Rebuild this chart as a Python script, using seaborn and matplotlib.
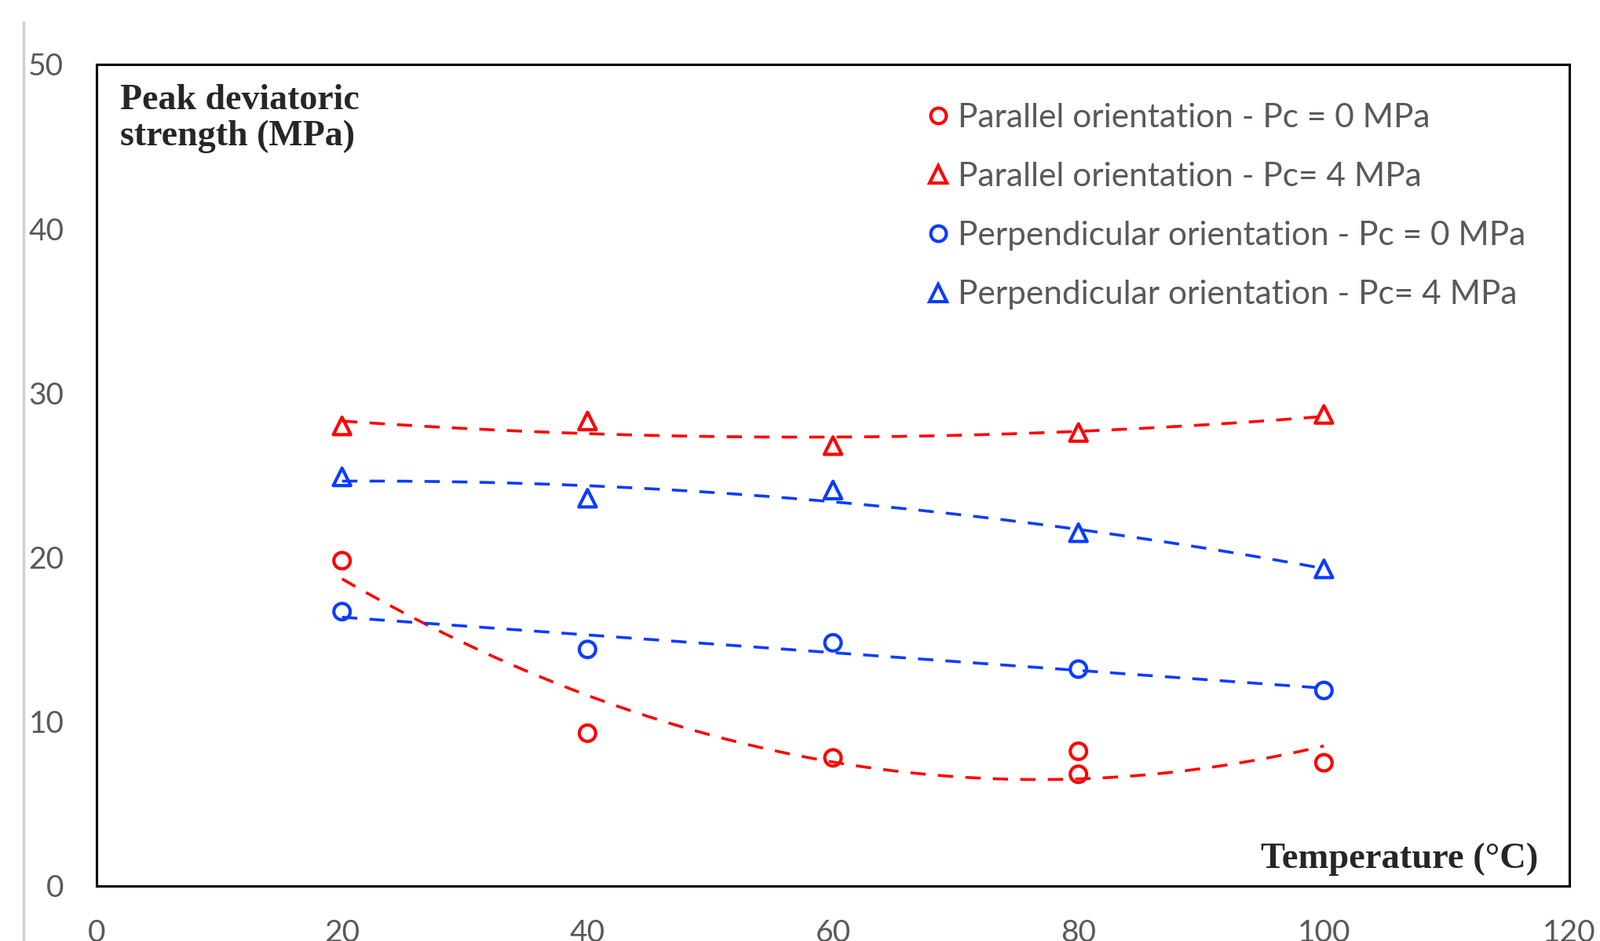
import numpy as np
import pandas as pd
import matplotlib
matplotlib.use('Agg')
import matplotlib.pyplot as plt
import seaborn as sns
from matplotlib.lines import Line2D

# values
temperature = [20, 40, 60, 80, 100]
par_pc0_temp = [20, 40, 60, 80, 80, 100]
par_pc0 = [19.8, 9.3, 7.8, 8.2, 6.8, 7.5]
par_pc4 = [28.0, 28.3, 26.8, 27.6, 28.7]
perp_pc0 = [16.7, 14.4, 14.8, 13.2, 11.9]
perp_pc4 = [24.9, 23.6, 24.1, 21.5, 19.3]

labels = ['Parallel orientation - Pc = 0 MPa',
          'Parallel orientation - Pc= 4 MPa',
          'Perpendicular orientation - Pc = 0 MPa',
          'Perpendicular orientation - Pc= 4 MPa']
x_ticks = [0, 20, 40, 60, 80, 100, 120]
y_ticks = [0, 10, 20, 30, 40, 50]

RED = '#FF0000'
BLUE = '#0A3CFF'
GRAY = '#595959'

frames = []
for lab, xs, ys in zip(labels,
                       [par_pc0_temp, temperature, temperature, temperature],
                       [par_pc0, par_pc4, perp_pc0, perp_pc4]):
    frames.append(pd.DataFrame({'series': lab, 'temp': xs, 'strength': ys}))
df = pd.concat(frames, ignore_index=True)

styles = {labels[0]: (RED, 'o', 15),
          labels[1]: (RED, '^', 16),
          labels[2]: (BLUE, 'o', 15),
          labels[3]: (BLUE, '^', 16)}

sns.set_style('white')
plt.rcParams['font.family'] = ['Lato', 'DejaVu Sans']

fig = plt.figure(figsize=(20.38, 11.98), dpi=100)
ax = fig.add_axes([123 / 2038, 1 - 1128 / 1198, 1876 / 2038, 1046 / 1198])

for lab in labels:
    sub = df[df['series'] == lab]
    color, marker, ms = styles[lab]
    # polynomial (order 2) trend line, dashed
    sns.regplot(data=sub, x='temp', y='strength', order=2, ci=None,
                scatter=False, ax=ax,
                line_kws=dict(color=color, lw=2.6, dashes=(5.4, 4.3)))
    sns.scatterplot(data=sub, x='temp', y='strength', ax=ax, marker=marker,
                    s=ms ** 2, facecolor='none', edgecolor=color,
                    linewidth=3, zorder=5)

ax.set_xlim(0, 120)
ax.set_ylim(0, 50)
ax.set_xticks(x_ticks)
ax.set_yticks(y_ticks)
ax.set_xlabel('')
ax.set_ylabel('')
ax.tick_params(axis='both', length=0, labelsize=28, labelcolor=GRAY, pad=30)
for sp in ax.spines.values():
    sp.set_visible(True)
    sp.set_color('black')
    sp.set_linewidth(2.2)

handles = [Line2D([], [], linestyle='none', marker=styles[l][1],
                  markersize=styles[l][2] * 0.95, markerfacecolor='none',
                  markeredgecolor=styles[l][0], markeredgewidth=3)
           for l in labels]
leg = ax.legend(handles, labels, loc='upper left', bbox_to_anchor=(0.543, 0.99),
                frameon=False, fontsize=30.5, labelcolor=GRAY, handlelength=0.7,
                handletextpad=0.25, labelspacing=0.88)

ax.text(0.016, 0.976, 'Peak deviatoric\nstrength (MPa)', transform=ax.transAxes,
        ha='left', va='top', fontsize=33, fontweight='bold',
        family='Liberation Serif', linespacing=1.1)
ax.text(0.979, 0.022, 'Temperature (°C)', transform=ax.transAxes,
        ha='right', va='baseline', fontsize=33.5, fontweight='bold',
        family='Liberation Serif')

# thin gray border line on the left edge
fig.add_artist(Line2D([30 / 2038, 30 / 2038], [0, 1 - 28 / 1198],
                      transform=fig.transFigure, color='#D0D0D0', lw=2.5))

fig.savefig('out.png', dpi=100)
